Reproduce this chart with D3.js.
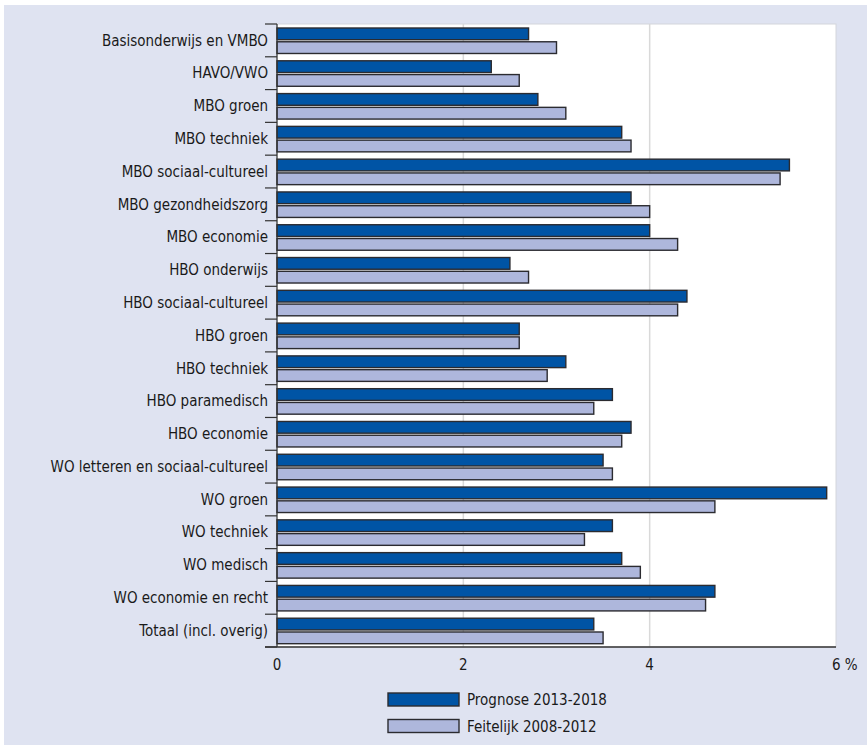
<!DOCTYPE html>
<html>
<head>
<meta charset="utf-8">
<script src="https://cdn.jsdelivr.net/npm/d3@7"></script>
<style>
  html, body { margin: 0; padding: 0; background: #ffffff; }
  svg { display: block; }
  text { font-family: "Liberation Sans Narrow", "DejaVu Sans Condensed", "Roboto", sans-serif; fill: #1a1a1a; }
</style>
</head>
<body>
<svg id="chart" width="867" height="745"></svg>
<script>
const categories = [
  "Basisonderwijs en VMBO",
  "HAVO/VWO",
  "MBO groen",
  "MBO techniek",
  "MBO sociaal-cultureel",
  "MBO gezondheidszorg",
  "MBO economie",
  "HBO onderwijs",
  "HBO sociaal-cultureel",
  "HBO groen",
  "HBO techniek",
  "HBO paramedisch",
  "HBO economie",
  "WO letteren en sociaal-cultureel",
  "WO groen",
  "WO techniek",
  "WO medisch",
  "WO economie en recht",
  "Totaal (incl. overig)"
];
const seriesNames = ["Prognose 2013-2018", "Feitelijk 2008-2012"];
const prognose  = [2.7, 2.3, 2.8, 3.7, 5.5, 3.8, 4.0, 2.5, 4.4, 2.6, 3.1, 3.6, 3.8, 3.5, 5.9, 3.6, 3.7, 4.7, 3.4];
const feitelijk = [3.0, 2.6, 3.1, 3.8, 5.4, 4.0, 4.3, 2.7, 4.3, 2.6, 2.9, 3.4, 3.7, 3.6, 4.7, 3.3, 3.9, 4.6, 3.5];
const xTicks = [0, 2, 4, 6];
const xTickLabels = ["0", "2", "4", "6 %"];
const colors = ["#0054a5", "#aeb7dc"];

(function () {
const svg = d3.select("#chart");
const pL = 277, pR = 836, pT = 24, pB = 647;

// background panel
svg.append("rect").attr("x", 4).attr("y", 5).attr("width", 863).attr("height", 740).attr("fill", "#dfe3f1");
// plot area
svg.append("rect").attr("x", pL).attr("y", pT).attr("width", pR - pL).attr("height", pB - pT)
  .attr("fill", "#ffffff").attr("stroke", "#d4d6dc").attr("stroke-width", 1);

const x = d3.scaleLinear().domain([0, 6]).range([pL, pR]);
const y = d3.scaleBand().domain(categories).range([pT, pB]).paddingInner(0).paddingOuter(0);
const ySub = d3.scaleBand().domain(seriesNames).range([4, y.bandwidth() - 3.3]).paddingInner(0.15);

// gridlines
svg.append("g").selectAll("line").data([2, 4]).join("line")
  .attr("x1", d => x(d)).attr("x2", d => x(d)).attr("y1", pT).attr("y2", pB)
  .attr("stroke", "#d9d9d9").attr("stroke-width", 1.5);

// bars
const rows = categories.map((c, i) => ({ c, vals: [prognose[i], feitelijk[i]] }));
const g = svg.append("g").selectAll("g").data(rows).join("g")
  .attr("transform", d => `translate(0,${y(d.c)})`);
g.selectAll("rect").data(d => d.vals.map((v, k) => ({ v, k }))).join("rect")
  .attr("x", x(0))
  .attr("y", d => ySub(seriesNames[d.k]))
  .attr("width", d => x(d.v) - x(0))
  .attr("height", ySub.bandwidth())
  .attr("fill", d => colors[d.k])
  .attr("stroke", "#2b2b30").attr("stroke-width", 1.4);

// y axis line and category ticks (boundaries)
const boundaries = categories.map(c => y(c)).concat([pB]);
svg.append("g").selectAll("line").data(boundaries).join("line")
  .attr("x1", pL - 12).attr("x2", pL).attr("y1", d => d).attr("y2", d => d)
  .attr("stroke", "#333").attr("stroke-width", 1.2);
svg.append("line").attr("x1", pL).attr("x2", pL).attr("y1", pT).attr("y2", pB)
  .attr("stroke", "#333").attr("stroke-width", 1.2);
// x axis line
svg.append("line").attr("x1", pL - 12).attr("x2", pR).attr("y1", pB).attr("y2", pB)
  .attr("stroke", "#333").attr("stroke-width", 1.4);

// category labels
svg.append("g").selectAll("text").data(categories).join("text")
  .attr("x", 268).attr("y", d => y(d) + y.bandwidth() / 2)
  .attr("dy", "0.35em").attr("text-anchor", "end")
  .attr("font-size", 15).text(d => d);

// x tick labels
svg.append("g").selectAll("text").data(xTicks).join("text")
  .attr("x", (d, i) => i === xTicks.length - 1 ? x(d) - 4 : x(d))
  .attr("y", 665).attr("dy", "0.35em")
  .attr("text-anchor", (d, i) => i === xTicks.length - 1 ? "start" : "middle")
  .attr("font-size", 15).text((d, i) => xTickLabels[i]);

// legend
const lg = svg.append("g").selectAll("g").data(seriesNames).join("g")
  .attr("transform", (d, i) => `translate(388,${693 + i * 26.5})`);
lg.append("rect").attr("width", 71).attr("height", 13)
  .attr("fill", (d, i) => colors[i]).attr("stroke", "#2b2b30").attr("stroke-width", 1.4);
lg.append("text").attr("x", 79).attr("y", 7).attr("dy", "0.35em")
  .attr("font-size", 15).text(d => d);
})();
</script>
</body>
</html>
